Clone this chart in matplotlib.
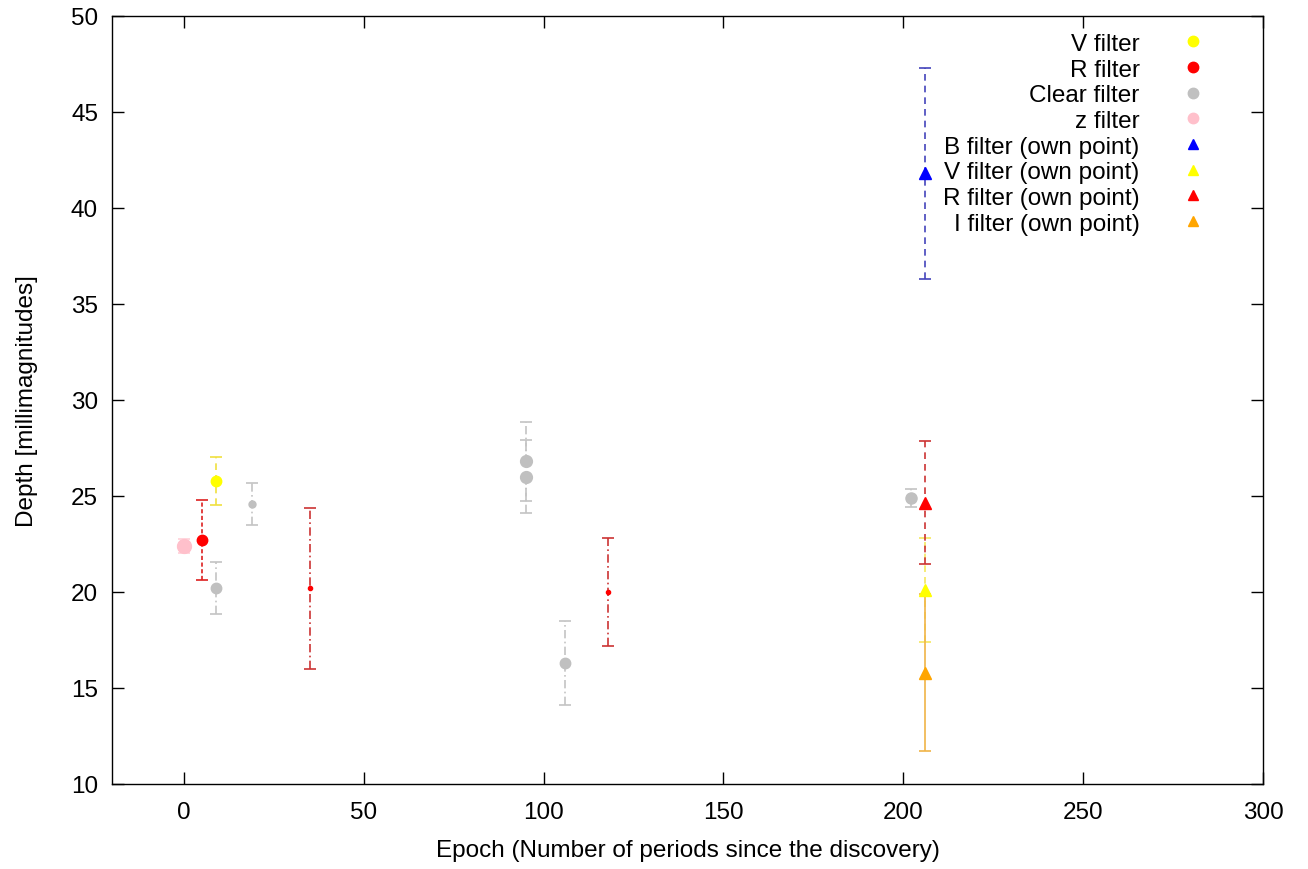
import matplotlib.pyplot as plt
from matplotlib.lines import Line2D

plt.rcParams['font.family'] = ['Liberation Sans', 'DejaVu Sans']

# published depths (circles) and our own measurements (triangles)
v_epoch = [9]
v_depth = [25.8]
v_err = [1.25]
v_size = [7.5]

r_epoch = [5, 35, 118]
r_depth = [22.7, 20.2, 20.0]
r_err = [2.1, 4.2, 2.8]
r_size = [7.5, 3.0, 3.0]

clear_epoch = [9, 19, 95, 95, 106, 202]
clear_depth = [20.2, 24.6, 26.8, 26.0, 16.3, 24.9]
clear_err = [1.35, 1.1, 2.05, 1.9, 2.17, 0.45]
clear_size = [7.5, 5.0, 8.5, 8.5, 7.5, 8.0]

z_epoch = [0]
z_depth = [22.4]
z_err = [0.35]
z_size = [10.0]

own_epoch = [206, 206, 206, 206]
own_depth = [41.8, 20.1, 24.65, 15.8]
own_err = [5.5, 2.7, 3.2, 4.1]

labels = ['V filter', 'R filter', 'Clear filter', 'z filter',
          'B filter (own point)', 'V filter (own point)',
          'R filter (own point)', 'I filter (own point)']

FS = 17.5

fig = plt.figure(figsize=(13.08, 8.70), dpi=100)
ax = fig.add_axes([112 / 1308, 1 - 785 / 870, 1151 / 1308, 768 / 870])


def draw(xs, ys, es, sizes, marker, color, ecolor, ls):
    for x, y, e, s in zip(xs, ys, es, sizes):
        eb = ax.errorbar(x, y, yerr=e, fmt='none', ecolor=ecolor,
                         elinewidth=1.2, capsize=4.5, capthick=1.2, zorder=2)
        eb[2][0].set_linestyle(ls)
        ax.plot(x, y, marker=marker, ms=s, color=color, mec=color,
                ls='none', zorder=3)


dashdot = (0, (5, 2, 1, 2))
dotted = (0, (2.5, 1.5))
dashed = (0, (4, 3))

draw(z_epoch, z_depth, z_err, z_size, 'o', '#ffc0cb', '#ffd0d8', dashed)
draw(v_epoch, v_depth, v_err, v_size, 'o', '#ffff00', '#f0e040', dashed)
draw(r_epoch[:1], r_depth[:1], r_err[:1], r_size[:1], 'o', '#ff0000', '#dd2020', dotted)
draw(r_epoch[1:], r_depth[1:], r_err[1:], r_size[1:], 'o', '#ff0000', '#cc3333', dashdot)
draw(clear_epoch, clear_depth, clear_err, clear_size, 'o', '#c0c0c0', '#c4c4c4', dashdot)

own_colors = ['#0000ff', '#ffff00', '#ff0000', '#ffa500']
own_ecolors = ['#4444bb', '#f5e860', '#cc3333', '#f0b448']
own_ls = [dashed, dashed, dashed, '-']
for i in range(4):
    draw(own_epoch[i:i + 1], own_depth[i:i + 1], own_err[i:i + 1], [8.5],
         '^', own_colors[i], own_ecolors[i], own_ls[i])

ax.set_xlim(-20, 300)
ax.set_ylim(10, 50)
ax.set_xticks(range(0, 301, 50))
ax.set_yticks(range(10, 51, 5))
ax.tick_params(direction='in', length=8.5, width=1, top=True, right=True,
               labelsize=FS)
ax.tick_params(axis='y', pad=10)
ax.tick_params(axis='x', pad=12)
for sp in ax.spines.values():
    sp.set_linewidth(1)

ax.set_xlabel('Epoch (Number of periods since the discovery)', fontsize=FS, labelpad=12)
ax.set_ylabel('Depth [millimagnitudes]', fontsize=FS, labelpad=24)

handle_colors = ['#ffff00', '#ff0000', '#c0c0c0', '#ffc0cb',
                 '#0000ff', '#ffff00', '#ff0000', '#ffa500']
handle_markers = ['o'] * 4 + ['^'] * 4
handles = [Line2D([], [], ls='none', marker=m, color=c, ms=7.5)
           for m, c in zip(handle_markers, handle_colors)]
ax.legend(handles, labels, loc='upper right', bbox_to_anchor=(0.960, 0.978),
          frameon=False, markerfirst=False, fontsize=FS, borderpad=0,
          borderaxespad=0, handletextpad=1.18, labelspacing=0.15)

fig.savefig('out.png', dpi=100)
